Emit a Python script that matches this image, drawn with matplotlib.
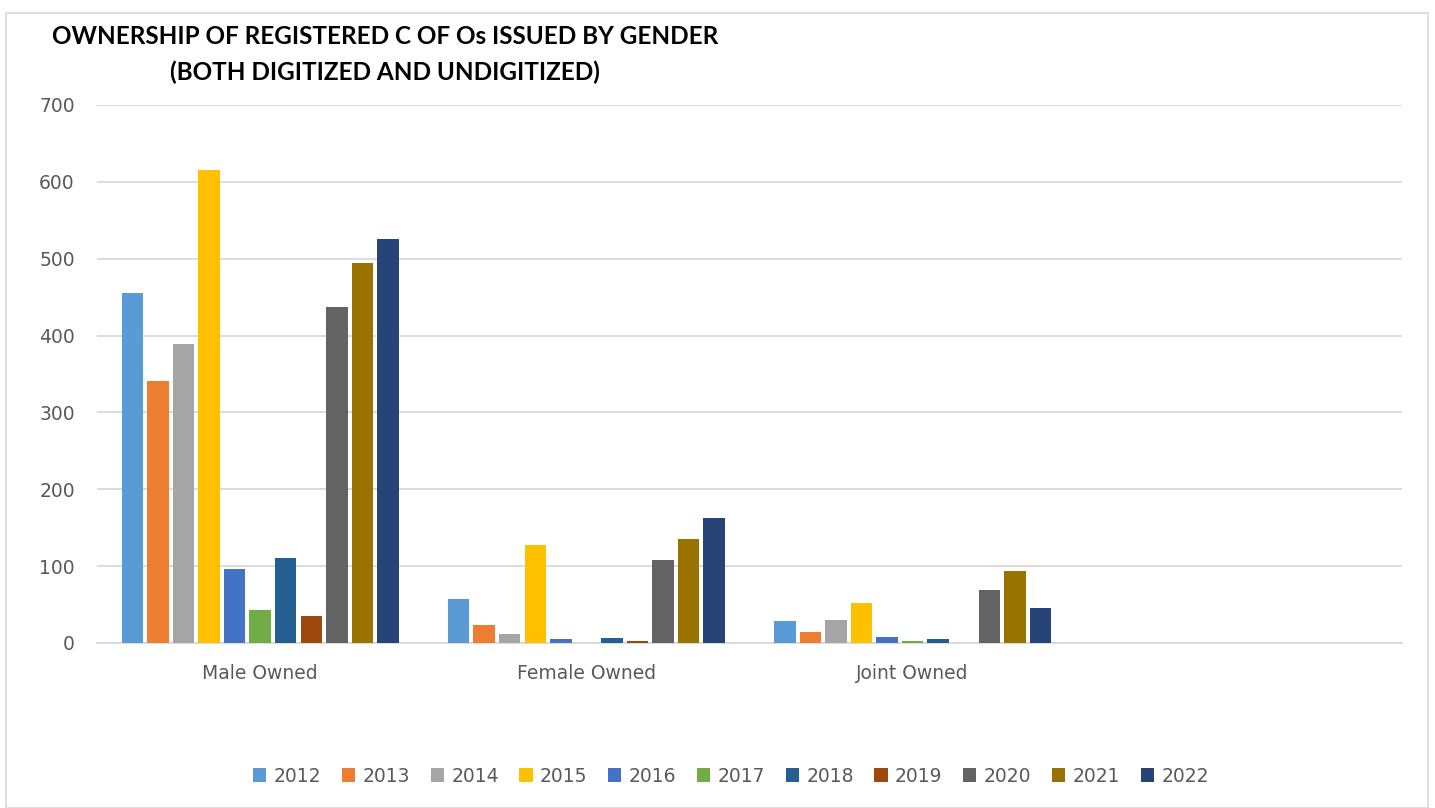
import numpy as np
import matplotlib.pyplot as plt
from matplotlib.patches import Rectangle

# ---- Données ---- #
categories = ["Male Owned", "Female Owned", "Joint Owned", ""]
annees = ["2012", "2013", "2014", "2015", "2016", "2017",
          "2018", "2019", "2020", "2021", "2022"]

male = [455, 341, 389, 615, 96, 43, 110, 35, 437, 494, 526]
female = [57, 23, 12, 127, 5, 0, 7, 3, 108, 135, 162]
joint = [28, 14, 30, 52, 8, 3, 5, 0, 69, 94, 45]

couleurs = ["#5B9BD5", "#ED7D31", "#A5A5A5", "#FFC000", "#4472C4", "#70AD47",
            "#255E91", "#9E480E", "#636363", "#997300", "#264478"]

valeurs = np.array([male, female, joint]).T  # une ligne par année

# ---- Figure ---- #
fig = plt.figure(figsize=(14.35, 8.08), dpi=100)
ax = fig.add_axes([97 / 1435, 1 - 643 / 808, 1305 / 1435, 538 / 808])

n = len(annees)
slot = 0.862 / n
x = np.arange(len(categories))
for i, annee in enumerate(annees):
    pos = np.arange(3) - 0.431 + slot * (i + 0.5)
    ax.bar(pos, valeurs[i], width=slot * 0.84, color=couleurs[i],
           label=annee, zorder=3)

ax.set_xlim(-0.5, 3.5)
ax.set_ylim(0, 700)
ax.set_yticks(range(0, 701, 100))
ax.set_xticks(x)
ax.set_xticklabels(categories)
ax.grid(axis="y", color="#D9D9D9", linewidth=1.3, zorder=0)
for s in ["top", "right", "left"]:
    ax.spines[s].set_visible(False)
ax.spines["bottom"].set_color("#D9D9D9")
ax.spines["bottom"].set_linewidth(1.3)
ax.tick_params(axis="both", length=0, labelsize=13.5, colors="#595959")
ax.tick_params(axis="x", pad=15)
ax.tick_params(axis="y", pad=16)

# Titre
titre_police = ["Lato", "DejaVu Sans"]
fig.text(385 / 1435, 1 - 36 / 808, "OWNERSHIP OF REGISTERED C OF Os ISSUED BY GENDER",
         ha="center", va="center", fontsize=17.5, fontweight="bold",
         family=titre_police)
fig.text(385 / 1435, 1 - 72 / 808, "(BOTH DIGITIZED AND UNDIGITIZED)",
         ha="center", va="center", fontsize=17.5, fontweight="bold",
         family=titre_police)

# Légende
fig.legend(loc="center", bbox_to_anchor=(731 / 1435, 1 - 776 / 808), ncol=n,
           frameon=False, fontsize=13.5, handlelength=0.7, handleheight=0.7,
           handletextpad=0.4, columnspacing=1.1, labelcolor="#595959")

# Cadre du graphique
fig.patches.append(Rectangle((6 / 1435, 0), 1422 / 1435, 1 - 13 / 808,
                             transform=fig.transFigure, fill=False,
                             edgecolor="#D9D9D9", linewidth=1.2))

fig.savefig("out.png", dpi=100)
